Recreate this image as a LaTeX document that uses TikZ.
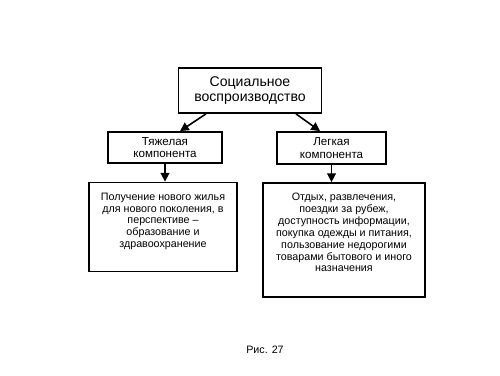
\documentclass[tikz,border=0pt]{standalone}
\usepackage{fontspec}
\setmainfont{Liberation Sans}
\usetikzlibrary{arrows.meta,calc}

\begin{document}
\begin{tikzpicture}[>={Triangle[length=5pt,width=5pt]},line join=miter]
  \tikzset{
    box/.style={draw,line width=1pt,fill=white,inner sep=0pt},
    big/.style={font=\fontsize{8}{8.2}\selectfont,align=center},
    small/.style={font=\fontsize{6.6}{7.3}\selectfont,align=center},
    tiny/.style={font=\fontsize{6.1}{6.75}\selectfont,align=center},
    link/.style={->,line width=0.9pt}
  }
  \useasboundingbox (0,0) rectangle (10,7.5);

  % top level
  \node[box,big,minimum width=2.86cm,minimum height=0.9cm] (soc) at (5.0,5.69)
    {Социальное\\воспроизводство};

  % the two components
  \node[box,small,minimum width=2.28cm,minimum height=0.62cm] (heavy) at (3.3,4.55)
    {Тяжелая\\компонента};
  \node[box,small,minimum width=2.18cm,minimum height=0.64cm] (light) at (6.63,4.54)
    {Легкая\\компонента};

  % what each of them covers; text sits at the top of the box
  \node[box,minimum width=2.96cm,minimum height=1.78cm] (heavyb) at (3.26,2.96) {};
  \node[tiny,anchor=north] (heavyt) at ($(heavyb.north)+(0,-0.1)$)
    {Получение нового жилья\\для нового поколения, в\\перспективе --\\образование и\\здравоохранение};
  \node[box,minimum width=3.24cm,minimum height=2.28cm] (lightb) at (6.88,2.70) {};
  \node[tiny,anchor=north] (lightt) at ($(lightb.north)+(0,-0.1)$)
    {Отдых, развлечения,\\поездки за рубеж,\\доступность информации,\\покупка одежды и питания,\\пользование недорогими\\товарами бытового и иного\\назначения};

  \draw[link] ($(soc.south)+(-0.88,0)$) -- ($(heavy.north)+(0.3,0)$);
  \draw[link] ($(soc.south)+(0.92,0)$) -- ($(light.north)+(-0.23,0)$);
  \draw[link] (heavy.south) -- (heavy.south |- heavyb.north);
  \draw[link] (light.south) -- (light.south |- lightb.north);

  \node[tiny] (cap) at (5.3,0.5) {Рис. 27};
\end{tikzpicture}
\end{document}
